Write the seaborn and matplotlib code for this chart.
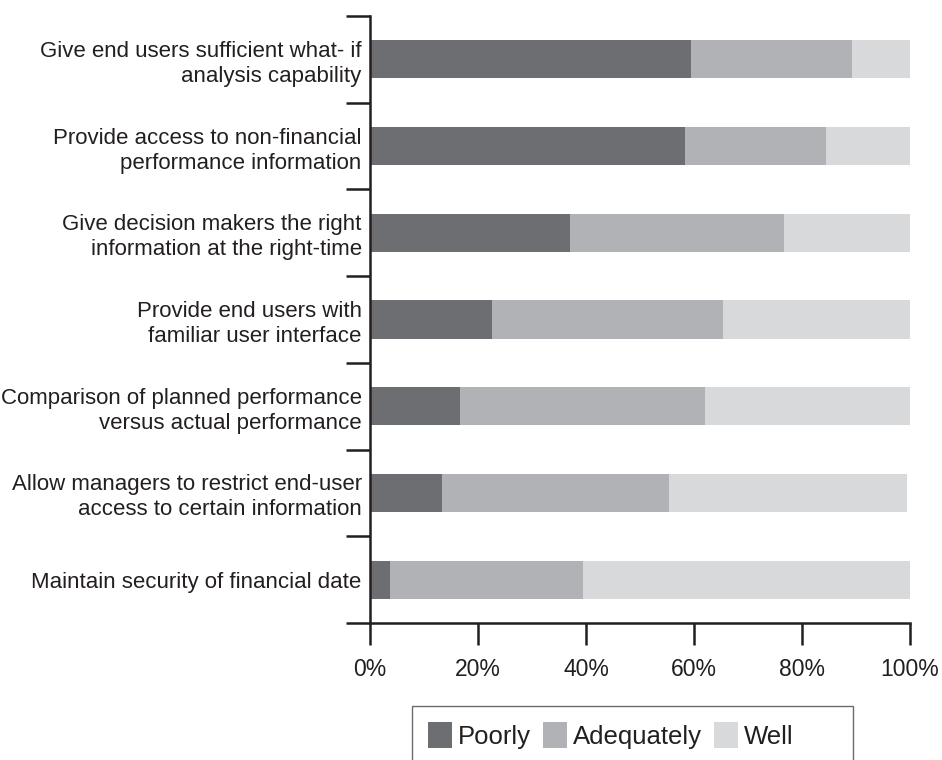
import numpy as np
import pandas as pd
import seaborn as sns
import matplotlib
matplotlib.use('Agg')
import matplotlib.pyplot as plt
from matplotlib.patches import Patch, Rectangle
from matplotlib.ticker import FixedLocator, PercentFormatter

# data (percent of respondents)
categories = [
    'Give end users sufficient what- if\nanalysis capability',
    'Provide access to non-financial\nperformance information',
    'Give decision makers the right\ninformation at the right-time',
    'Provide end users with\nfamiliar user interface',
    'Comparison of planned performance\nversus actual performance',
    'Allow managers to restrict end-user\naccess to certain information',
    'Maintain security of financial date',
]
poorly = [59.5, 58.4, 37.1, 22.6, 16.7, 13.4, 3.7]
adequately = [29.7, 26.1, 39.5, 42.7, 45.3, 41.9, 35.7]
well = [10.8, 15.5, 23.4, 34.7, 38.0, 44.2, 60.6]
series_names = ['Poorly', 'Adequately', 'Well']
x_ticks = [0, 20, 40, 60, 80, 100]

colors = ['#6d6e71', '#b1b2b5', '#d8d9db']
ink = '#231f20'

sns.set_style('white')
plt.rcParams['font.family'] = ['Liberation Sans', 'DejaVu Sans']

df = pd.DataFrame({'item': categories, 'Poorly': poorly,
                   'Adequately': adequately, 'Well': well})
df['cum_adequately'] = df['Poorly'] + df['Adequately']
df['cum_well'] = df['cum_adequately'] + df['Well']

fig = plt.figure(figsize=(9.42, 7.6), dpi=100)
ax = fig.add_axes([370 / 942, 1 - 623 / 760, 540 / 942, 607 / 760])

# stack by overlaying cumulative totals, longest first
for col, c in zip(['cum_well', 'cum_adequately', 'Poorly'], colors[::-1]):
    sns.barplot(data=df, y='item', x=col, orient='h', color=c,
                width=0.44, linewidth=0, saturation=1, ax=ax)

ax.set_xlim(0, 100)
ax.set_ylim(len(categories) - 0.5, -0.5)
ax.set_xlabel('')
ax.set_ylabel('')

for side in ['top', 'right']:
    ax.spines[side].set_visible(False)
for side in ['left', 'bottom']:
    ax.spines[side].set_color(ink)
    ax.spines[side].set_linewidth(1.8)

ax.xaxis.set_major_locator(FixedLocator(x_ticks))
ax.xaxis.set_major_formatter(PercentFormatter(decimals=0))
ax.tick_params(axis='x', direction='out', length=16, width=1.8, color=ink,
               labelsize=16.5, labelcolor=ink, pad=9, bottom=True)

ax.yaxis.set_minor_locator(FixedLocator(np.arange(-0.5, len(categories), 1)))
ax.tick_params(axis='y', which='major', length=0, labelsize=16,
               labelcolor=ink, pad=6)
ax.tick_params(axis='y', which='minor', direction='out', length=17,
               width=1.8, color=ink, left=True)
for lab in ax.get_yticklabels():
    lab.set_linespacing(1.25)
    lab.set_horizontalalignment('right')
    lab.set_multialignment('right')

handles = [Patch(facecolor=c, edgecolor='none') for c in colors]
fig.legend(handles, series_names, ncol=3, frameon=False,
           loc='center left', bbox_to_anchor=(428 / 942, 1 - 735.5 / 760),
           borderpad=0, borderaxespad=0, fontsize=18.5,
           handlelength=0.93, handleheight=1.2, handletextpad=0.25,
           columnspacing=0.45, labelcolor=ink)
fig.patches.append(Rectangle((412 / 942, -0.05), 441 / 942, 0.05 + 54 / 760,
                             transform=fig.transFigure, fill=False,
                             edgecolor='#6b6b6b', linewidth=1.0))

plt.savefig('out.png', dpi=100)
